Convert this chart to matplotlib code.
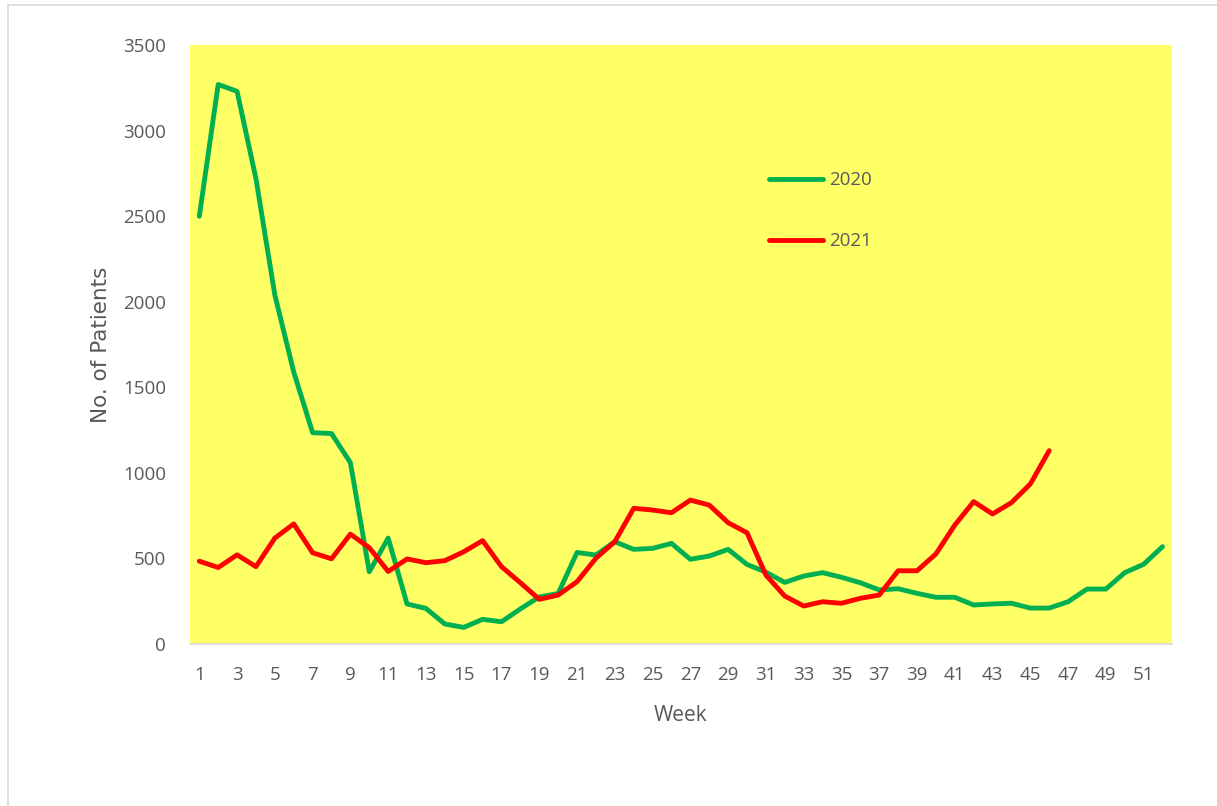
import numpy as np
import matplotlib
matplotlib.use("Agg")
import matplotlib.pyplot as plt
from matplotlib.patches import Rectangle

weeks = np.arange(1, 53)

patients_2020 = [2500, 3270, 3230, 2720, 2040, 1590, 1235, 1230, 1060, 422,
                 619, 234, 208, 117, 97, 144, 130, 205, 275, 295,
                 535, 520, 598, 553, 559, 588, 495, 514, 553, 465,
                 420, 360, 397, 417, 390, 358, 316, 323, 296, 273,
                 273, 228, 234, 238, 210, 210, 247, 321, 321, 417,
                 466, 569]

patients_2021 = [484, 447, 521, 452, 619, 702, 533, 498, 642, 563,
                 424, 497, 475, 487, 539, 604, 452, 358, 261, 286,
                 364, 501, 598, 793, 783, 767, 841, 812, 709, 650,
                 403, 280, 222, 247, 238, 267, 286, 428, 428, 526,
                 695, 832, 760, 826, 935, 1130]

fig = plt.figure(figsize=(12.17, 8.06), dpi=100)
fig.patches.append(Rectangle((0.0066, -0.01), 1.1, 1.004, transform=fig.transFigure,
                             fill=False, edgecolor="#D9D9D9", linewidth=1.2))
ax = fig.add_axes([0.156, 0.201, 0.807, 0.743])
ax.set_facecolor("#FFFF66")

ax.plot(weeks, patients_2020, color="#00B050", lw=3.5, label="2020",
        solid_capstyle="round", solid_joinstyle="round")
ax.plot(weeks[:len(patients_2021)], patients_2021, color="#FF0000", lw=3.5, label="2021",
        solid_capstyle="round", solid_joinstyle="round")

ax.set_xlim(0.5, 52.5)
ax.set_ylim(0, 3500)
ax.set_xticks(np.arange(1, 53, 2))
ax.set_yticks(np.arange(0, 3501, 500))

txt = "#595959"
for s in ["top", "right", "left"]:
    ax.spines[s].set_visible(False)
ax.spines["bottom"].set_color("#D9D9D9")
ax.spines["bottom"].set_linewidth(1.2)
ax.tick_params(length=0, colors=txt, labelsize=13.5)
ax.tick_params(axis="x", pad=16)
ax.tick_params(axis="y", pad=17)
for lab in ax.get_xticklabels() + ax.get_yticklabels():
    lab.set_family("Open Sans")

ax.set_xlabel("Week", color=txt, fontsize=15, family="Open Sans", labelpad=15)
ax.set_ylabel("No. of Patients", color=txt, fontsize=15.5, family="DejaVu Sans", labelpad=9)

leg = ax.legend(loc="upper left", bbox_to_anchor=(0.58, 0.805), frameon=False,
                fontsize=13.5, handlelength=2.9, labelspacing=2.3, handletextpad=0.3,
                borderpad=0)
for t in leg.get_texts():
    t.set_color(txt)
    t.set_family("Open Sans")

fig.savefig("out.png", dpi=100)
